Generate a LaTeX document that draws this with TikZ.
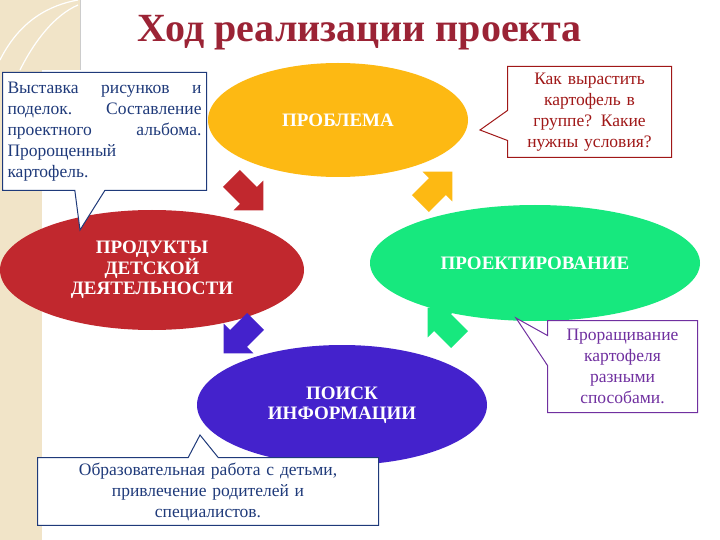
\documentclass[tikz,border=0pt]{standalone}
\usepackage{fontspec}
\setmainfont{Liberation Serif}
\usetikzlibrary{shapes.callouts,shapes.geometric}
\definecolor{ttl}{HTML}{9B2335}
\definecolor{cY}{HTML}{FDB913}
\definecolor{cG}{HTML}{17E87E}
\definecolor{cP}{HTML}{4422CC}
\definecolor{cR}{HTML}{C1282E}
\definecolor{bl}{HTML}{1F3A7A}
\definecolor{dr}{HTML}{A01818}
\definecolor{pu}{HTML}{7030A0}
\definecolor{beige}{HTML}{F1E4C8}
\tikzset{
 ell/.style={ellipse, fill=#1, text=white, font=\bfseries\fontsize{19}{20}\selectfont, align=center, inner sep=0pt},
 call/.style={rectangle callout, draw=#1, fill=white, line width=1pt, font=\fontsize{17.5}{21}\selectfont, inner sep=5pt, callout pointer width=30pt},
}
\newcommand{\blkarrow}[3]{\fill[#1, shift={(#2)}, rotate=#3] (-22,-12) -- (2,-12) -- (2,-21) -- (23,0) -- (2,21) -- (2,12) -- (-22,12) -- cycle;}
\begin{document}
\begin{tikzpicture}[x=1pt,y=-1pt]
\useasboundingbox (0,0) rectangle (720,540);
\fill[white] (0,0) rectangle (720,540);
\fill[beige] (0,0) rectangle (80,70);
\fill[beige] (0,70) rectangle (42,540);
\draw[white, line width=1.2pt] (0,60) .. controls (20,20) and (50,5) .. (78,0);
\draw[white, line width=1.2pt] (20,70) .. controls (35,40) and (55,15) .. (78,5);
\draw[gray!40] (80,0) -- (80,70);
\node (title) [text=ttl, font=\bfseries\fontsize{40}{42}\selectfont] at (360,33) {Ход реализации проекта};

\node (prob) [ell=cY, minimum width=260pt, minimum height=114pt] at (338,120) {ПРОБЛЕМА};
\node (proj) [ell=cG, minimum width=330pt, minimum height=116pt] at (535,263) {ПРОЕКТИРОВАНИЕ};
\node (info) [ell=cP, minimum width=290pt, minimum height=120pt] at (342,405) {ПОИСК\\ИНФОРМАЦИИ};
\node (prod) [ell=cR, minimum width=304pt, minimum height=120pt] at (152,270) {ПРОДУКТЫ\\ДЕТСКОЙ\\ДЕЯТЕЛЬНОСТИ};

\blkarrow{cR}{247,194}{-45}
\blkarrow{cY}{436,188}{45}
\blkarrow{cG}{444,324}{135}
\blkarrow{cP}{240,337}{-135}

\node (c1) [call=bl, text=bl, text width=194pt, minimum height=118pt, callout absolute pointer={(80,230)}, anchor=north west] at (2,72)
 {Выставка\hfill рисунков\hfill и\\ поделок.\hfill Составление\\ проектного\hfill альбома.\\ Пророщенный\\ картофель.};
\node (c2) [call=dr, text=dr, text width=154pt, minimum height=91pt, align=center, callout absolute pointer={(480,130)}, anchor=north west] at (507,66)
 {Как вырастить\\ картофель в\\ группе? Какие\\ нужны условия?};
\node (c3) [call=pu, text=pu, text width=140pt, minimum height=92pt, align=center, callout absolute pointer={(516,318)}, anchor=north west] at (547,320)
 {Проращивание\\ картофеля\\ разными\\ способами.};
\node (c4) [call=bl, text=bl, text width=331pt, minimum height=67pt, align=center, callout absolute pointer={(200,435)}, anchor=north west] at (37,457)
 {Образовательная работа с детьми,\\ привлечение родителей и\\ специалистов.};
\end{tikzpicture}
\end{document}
